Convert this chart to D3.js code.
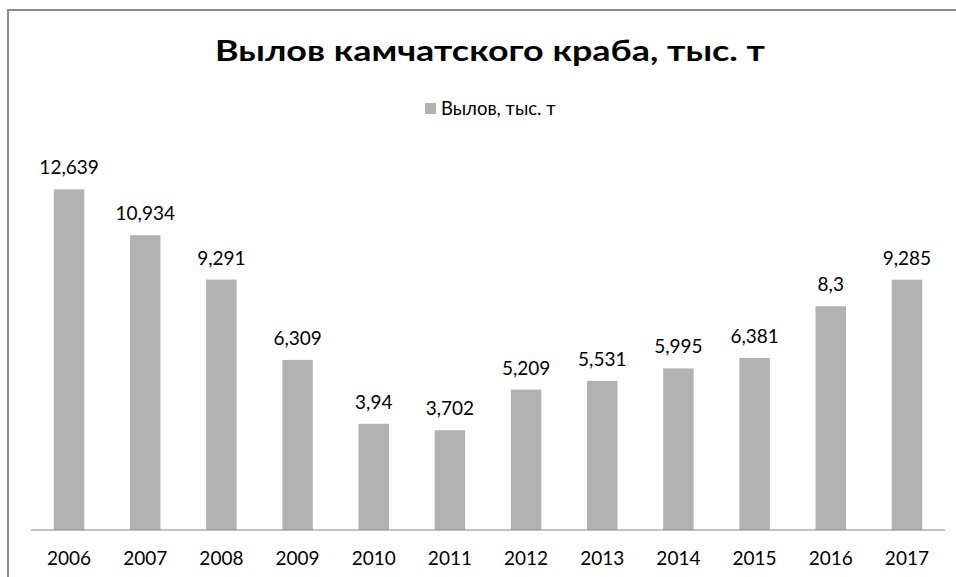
<!DOCTYPE html>
<html>
<head>
<meta charset="utf-8">
<script src="https://cdn.jsdelivr.net/npm/d3@7"></script>
<style>
  html, body { margin: 0; padding: 0; background: #fff; }
  svg { display: block; }
  text { font-family: Lato, "Open Sans", sans-serif; fill: #000; }
</style>
</head>
<body>
<script>
// Catch of red king crab by year, thousand tonnes
const years = ["2006", "2007", "2008", "2009", "2010", "2011", "2012", "2013", "2014", "2015", "2016", "2017"];
const catchValues = [12.639, 10.934, 9.291, 6.309, 3.94, 3.702, 5.209, 5.531, 5.995, 6.381, 8.3, 9.285];
const valueLabels = ["12,639", "10,934", "9,291", "6,309", "3,94", "3,702", "5,209", "5,531", "5,995", "6,381", "8,3", "9,285"];
const chartTitle = "Вылов камчатского краба, тыс. т";
const seriesName = "Вылов, тыс. т";

const W = 956, H = 577;
const svg = d3.select("body").append("svg").attr("width", W).attr("height", H);

// chart frame (top and left edges are visible)
svg.append("path")
  .attr("d", `M8,${H} L8,10 L${W},10`)
  .attr("fill", "none").attr("stroke", "#8a8a8a").attr("stroke-width", 2);

const x = d3.scaleBand().domain(years).range([31, 945]).paddingInner(0.6).paddingOuter(0.3);
const y = d3.scaleLinear().domain([0, 14]).range([530, 152.6]);

const barColor = "#b2b2b2";

svg.append("g").selectAll("rect").data(years).join("rect")
  .attr("x", d => x(d))
  .attr("width", x.bandwidth())
  .attr("y", (d, i) => y(catchValues[i]))
  .attr("height", (d, i) => y(0) - y(catchValues[i]))
  .attr("fill", barColor);

svg.append("g").selectAll("text").data(years).join("text")
  .attr("x", d => x(d) + x.bandwidth() / 2)
  .attr("y", (d, i) => y(catchValues[i]) - 15)
  .attr("text-anchor", "middle")
  .attr("font-size", 19)
  .text((d, i) => valueLabels[i]);

// category axis
const axis = svg.append("g").attr("transform", "translate(0,530)")
  .call(d3.axisBottom(x).tickSize(0).tickPadding(21.5));
axis.select(".domain").attr("stroke", "#868686").attr("stroke-width", 1.2).attr("d", "M31,0H945");
axis.selectAll("text").attr("font-size", 19).attr("font-family", "Lato, 'Open Sans', sans-serif").attr("fill", "#000");

// title
svg.append("text")
  .attr("x", 490).attr("y", 61)
  .attr("text-anchor", "middle")
  .attr("font-family", "'Open Sans', sans-serif")
  .attr("font-size", 28).attr("font-weight", "bold")
  .attr("textLength", 550).attr("lengthAdjust", "spacingAndGlyphs")
  .text(chartTitle);

// legend
const legend = svg.append("g").attr("transform", "translate(425,103)");
legend.append("rect").attr("width", 11).attr("height", 11).attr("fill", barColor);
legend.append("text").attr("x", 16).attr("y", 12).attr("font-size", 18.5).attr("fill", "#000").text(seriesName);
</script>
</body>
</html>
